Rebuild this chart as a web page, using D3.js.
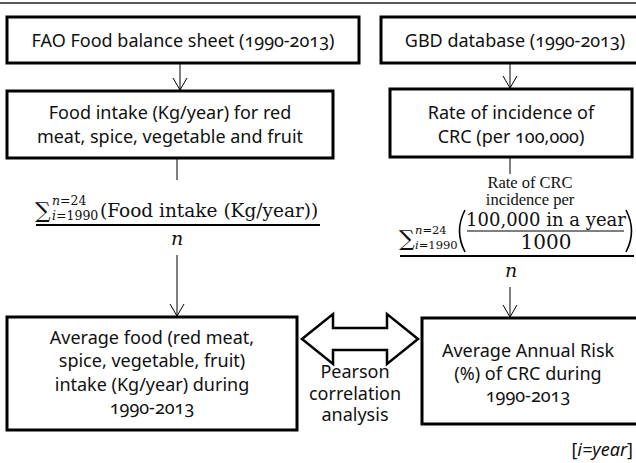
<!DOCTYPE html>
<html>
<head>
<meta charset="utf-8">
<script src="https://cdn.jsdelivr.net/npm/d3@7/dist/d3.min.js"></script>
<style>
  html, body { margin: 0; padding: 0; background: #fff; }
  svg { display: block; }
  .box-text { font-family: "Noto Sans", "Open Sans", sans-serif; font-size: 18px; fill: #111; font-variant-numeric: oldstyle-nums; font-feature-settings: "onum" 1; }
  .math { font-family: "DejaVu Serif", "Liberation Serif", serif; fill: #111; }
</style>
</head>
<body>
<script>
// ---- content (text of the flowchart) ----
const sourceLabels = ["FAO Food balance sheet (1990-2013)", "GBD database (1990-2013)"];
const measureLabels = [
  ["Food intake (Kg/year) for red", "meat, spice, vegetable and fruit"],
  ["Rate of incidence of", "CRC (per 100,000)"]
];
const outcomeLabels = [
  ["Average food (red meat,", "spice, vegetable, fruit)", "intake (Kg/year) during", "1990-2013"],
  ["Average Annual Risk", "(%) of CRC during", "1990-2013"]
];
const linkLabel = ["Pearson", "correlation", "analysis"];
const sumUpper = ["n", "=24"];
const sumLower = ["i", "=1990"];
const leftNumerator = "(Food intake (Kg/year))";
const rightNumeratorTop = ["Rate of CRC", "incidence per"];
const rightInnerNum = "100,000 in a year";
const rightInnerDen = "1000";
const denominator = "n";
const footnote = "i=year";

// ---- layout ----
const W = 636, H = 463;
const svg = d3.select("body").append("svg").attr("width", W).attr("height", H);

// top rule
svg.append("line").attr("x1", 0).attr("x2", W).attr("y1", 3).attr("y2", 3)
  .attr("stroke", "#222").attr("stroke-width", 1.5);

const boxes = [
  {x: 7, y: 17, w: 352, h: 46, lines: [sourceLabels[0]], cx: 183, base: [47]},
  {x: 381, y: 17, w: 280, h: 46, lines: [sourceLabels[1]], cx: 515, base: [47]},
  {x: 7, y: 91, w: 326, h: 67, lines: measureLabels[0], cx: 170, base: [119, 143]},
  {x: 390, y: 89, w: 242, h: 68, lines: measureLabels[1], cx: 511, base: [119, 143]},
  {x: 7, y: 317, w: 290, h: 113, lines: outcomeLabels[0], cx: 152, base: [344, 367, 391, 414]},
  {x: 422, y: 318, w: 240, h: 106, lines: outcomeLabels[1], cx: 528, base: [357, 380, 402]}
];

boxes.forEach(b => {
  svg.append("rect").attr("x", b.x).attr("y", b.y).attr("width", b.w).attr("height", b.h)
    .attr("fill", "#fff").attr("stroke", "#000").attr("stroke-width", 3);
  b.lines.forEach((t, i) => {
    svg.append("text").attr("class", "box-text").attr("x", b.cx).attr("y", b.base[i])
      .attr("text-anchor", "middle").text(t);
  });
});

// arrows (open V heads)
function vline(x, y1, y2, head) {
  svg.append("line").attr("x1", x).attr("x2", x).attr("y1", y1).attr("y2", y2)
    .attr("stroke", "#000").attr("stroke-width", 1);
  if (head) {
    svg.append("path").attr("d", `M${x - 7},${y2 - 12} L${x},${y2} L${x + 7},${y2 - 12}`)
      .attr("fill", "none").attr("stroke", "#000").attr("stroke-width", 1);
  }
}
vline(180, 63, 90, true);
vline(510, 63, 88, true);
vline(177, 158, 180, false);
vline(177, 255, 316, true);
vline(510, 157, 174, false);
vline(510, 287, 317, true);

function sumSign(g, x, yBase, scriptX, supY, subY, fs) {
  g.append("text").attr("x", x).attr("y", yBase).attr("font-size", 22).text("\u2211");
  const sup = g.append("text").attr("x", scriptX).attr("y", supY).attr("font-size", fs);
  sup.append("tspan").attr("font-style", "italic").text(sumUpper[0]);
  sup.append("tspan").text(sumUpper[1]);
  const sub = g.append("text").attr("x", scriptX).attr("y", subY).attr("font-size", fs);
  sub.append("tspan").attr("font-style", "italic").text(sumLower[0]);
  sub.append("tspan").text(sumLower[1]);
}

// left formula
const lf = svg.append("g").attr("class", "math");
sumSign(lf, 35, 218, 52, 205, 220, 12.5);
lf.append("text").attr("x", 100).attr("y", 217).attr("font-size", 18.5).text(leftNumerator);
lf.append("line").attr("x1", 36).attr("x2", 320).attr("y1", 225).attr("y2", 225)
  .attr("stroke", "#000").attr("stroke-width", 2);
lf.append("text").attr("x", 177).attr("y", 245).attr("font-size", 19).attr("font-style", "italic")
  .attr("text-anchor", "middle").text(denominator);

// right formula
const rf = svg.append("g").attr("class", "math");
rightNumeratorTop.forEach((t, i) => {
  rf.append("text").attr("x", 530).attr("y", 188 + i * 16.5).attr("font-size", 16.5)
    .attr("font-family", "Liberation Serif, serif")
    .attr("text-anchor", "middle").text(t);
});
sumSign(rf, 399, 246, 415, 234, 249, 11.5);
// tall parentheses
rf.append("path").attr("d", "M465,210 Q454,231 465,252").attr("fill", "none").attr("stroke", "#000").attr("stroke-width", 1.6);
rf.append("path").attr("d", "M626,210 Q637,231 626,252").attr("fill", "none").attr("stroke", "#000").attr("stroke-width", 1.6);
rf.append("text").attr("x", 546).attr("y", 226).attr("font-size", 18)
  .attr("text-anchor", "middle").text(rightInnerNum);
rf.append("line").attr("x1", 467).attr("x2", 624).attr("y1", 231).attr("y2", 231)
  .attr("stroke", "#000").attr("stroke-width", 1);
rf.append("text").attr("x", 546).attr("y", 249).attr("font-size", 20)
  .attr("text-anchor", "middle").text(rightInnerDen);
rf.append("line").attr("x1", 400).attr("x2", 634).attr("y1", 256).attr("y2", 256)
  .attr("stroke", "#000").attr("stroke-width", 2);
rf.append("text").attr("x", 511).attr("y", 277).attr("font-size", 19).attr("font-style", "italic")
  .attr("text-anchor", "middle").text(denominator);

// double-headed arrow
const ax1 = 302, ax2 = 418, ay = 339, hh = 25, bh = 11, hl = 31;
svg.append("path")
  .attr("d", `M${ax1},${ay} L${ax1 + hl},${ay - hh} L${ax1 + hl},${ay - bh} L${ax2 - hl},${ay - bh} L${ax2 - hl},${ay - hh} L${ax2},${ay} L${ax2 - hl},${ay + hh} L${ax2 - hl},${ay + bh} L${ax1 + hl},${ay + bh} L${ax1 + hl},${ay + hh} Z`)
  .attr("fill", "#fff").attr("stroke", "#000").attr("stroke-width", 2.5).attr("stroke-linejoin", "miter");

linkLabel.forEach((t, i) => {
  svg.append("text").attr("class", "box-text").attr("x", 355).attr("y", 378 + i * 21.5)
    .attr("text-anchor", "middle").text(t);
});

// footnote
const fn = svg.append("text").attr("class", "box-text").attr("x", 633).attr("y", 456)
  .attr("text-anchor", "end").attr("font-size", 16);
fn.append("tspan").text("[");
fn.append("tspan").attr("font-style", "italic").text(footnote);
fn.append("tspan").text("]");
</script>
</body>
</html>
